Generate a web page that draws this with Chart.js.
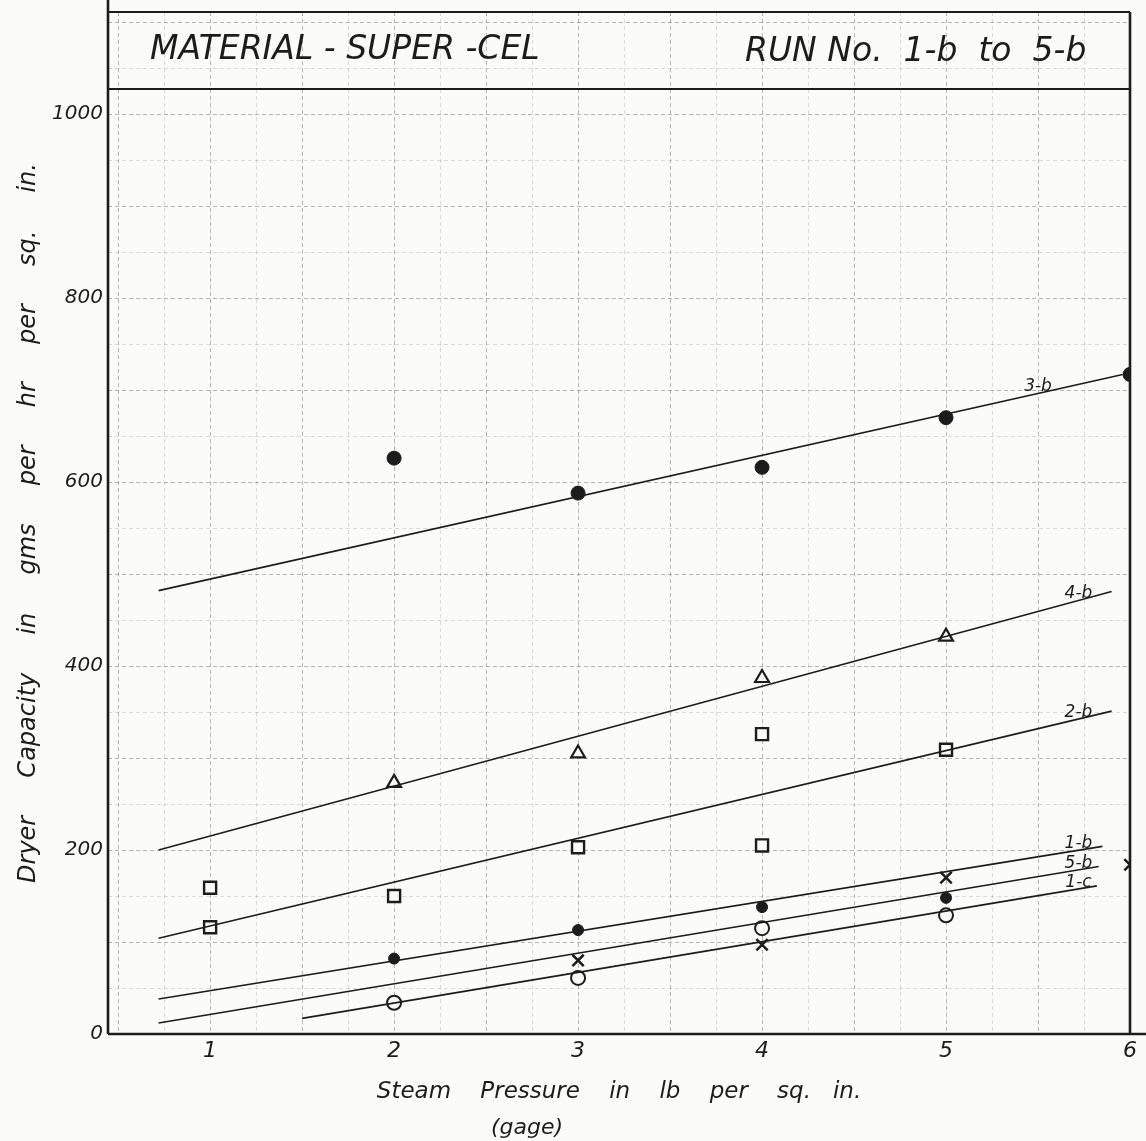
<!DOCTYPE html>
<html>
<head>
<meta charset="utf-8">
<title>Material Super-Cel - dryer capacity vs steam pressure</title>
<script src="https://cdn.jsdelivr.net/npm/chart.js@4.4.1/dist/chart.umd.min.js"></script>
<style>
  html, body { margin: 0; padding: 0; background: #fbfbf9; }
</style>
</head>
<body>
<canvas id="myChart" width="1146" height="1141"></canvas>
<script>
// values
// x = steam pressure (lb per sq in, gage), y = dryer capacity (gms per hr per sq in)
const runNames = ["3-b", "4-b", "2-b", "1-b", "5-b", "1-c"]

const run3bPressure = [2, 3, 4, 5, 6]
const run3bCapacity = [626, 588, 616, 670, 717]
const run4bPressure = [2, 3, 4, 5]
const run4bCapacity = [273, 305, 387, 432]
const run2bPressure = [1, 1, 2, 3, 4, 4, 5]
const run2bCapacity = [159, 116, 150, 203, 326, 205, 309]
const run1bPressure = [2, 3, 4, 5]
const run1bCapacity = [82, 113, 138, 148]
const run5bPressure = [3, 4, 5, 6]
const run5bCapacity = [80, 97, 170, 184]
const run1cPressure = [2, 3, 4, 5]
const run1cCapacity = [34, 61, 115, 129]

// the hand drawn straight lines: where each one starts and ends (same order as runNames)
const fitStartPressure = [0.72, 0.72, 0.72, 0.72, 0.72, 1.5]
const fitStartCapacity = [482, 200, 104, 38, 12, 17]
const fitEndPressure = [5.96, 5.9, 5.9, 5.85, 5.83, 5.82]
const fitEndCapacity = [717, 481, 351, 204, 182, 161]

const xTickLabels = ["1", "2", "3", "4", "5", "6"]
const yTickLabels = ["0", "200", "400", "600", "800", "1000"]

const ink = "#1c1c1c"
const paper = "#fbfbf9"
const hand = '"DejaVu Sans", sans-serif'

const pressures = [run3bPressure, run4bPressure, run2bPressure, run1bPressure, run5bPressure, run1cPressure]
const capacities = [run3bCapacity, run4bCapacity, run2bCapacity, run1bCapacity, run5bCapacity, run1cCapacity]

const marks = [
  { style: "circle", r: 7, filled: true, w: 1 },
  { style: "triangle", r: 8, filled: false, w: 2.2 },
  { style: "rect", r: 8.5, filled: false, w: 2.4 },
  { style: "circle", r: 5.5, filled: true, w: 1 },
  { style: "crossRot", r: 8, filled: false, w: 2.5 },
  { style: "circle", r: 7, filled: false, w: 2 },
]

const datasets = []
runNames.forEach((name, i) => {
  datasets.push({
    label: name + " fit",
    runLabel: name,
    data: [
      { x: fitStartPressure[i], y: fitStartCapacity[i] },
      { x: fitEndPressure[i], y: fitEndCapacity[i] },
    ],
    showLine: true,
    borderColor: ink,
    borderWidth: 1.6,
    pointRadius: 0,
  })
  datasets.push({
    label: name,
    data: pressures[i].map((p, j) => ({ x: p, y: capacities[i][j] })),
    showLine: false,
    pointStyle: marks[i].style,
    pointRadius: marks[i].r,
    pointBorderWidth: marks[i].w,
    pointBorderColor: ink,
    pointBackgroundColor: marks[i].filled ? ink : paper,
  })
})

// run names written on top of the end of each line
const lineLabels = {
  id: "lineLabels",
  afterDatasetsDraw(chart) {
    const { ctx } = chart
    const x = chart.scales.x, y = chart.scales.y
    ctx.save()
    ctx.font = "italic 17px " + hand
    ctx.fillStyle = ink
    ctx.textAlign = "center"
    ctx.textBaseline = "bottom"
    chart.data.datasets.forEach(ds => {
      if (!ds.runLabel) return
      const a = ds.data[0], b = ds.data[1]
      const at = ds.runLabel === "3-b" ? 5.5 : 5.72
      const v = a.y + (at - a.x) / (b.x - a.x) * (b.y - a.y)
      ctx.fillText(ds.runLabel, x.getPixelForValue(at), y.getPixelForValue(v) + 2)
    })
    ctx.restore()
  }
}

// paper, frame, title box
const sheet = {
  id: "sheet",
  beforeDraw(chart) {
    const { ctx } = chart
    ctx.save()
    ctx.fillStyle = paper
    ctx.fillRect(0, 0, chart.width, chart.height)
    ctx.restore()
  },
  afterDraw(chart) {
    const { ctx } = chart
    const { left, top, right, bottom } = chart.chartArea
    ctx.save()
    ctx.strokeStyle = ink
    ctx.lineWidth = 2.6
    ctx.beginPath()
    ctx.moveTo(left, 0); ctx.lineTo(left, bottom)
    ctx.moveTo(left, bottom); ctx.lineTo(chart.width, bottom)
    ctx.moveTo(right, top); ctx.lineTo(right, bottom)
    ctx.stroke()
    ctx.lineWidth = 2
    ctx.beginPath()
    ctx.moveTo(left, top); ctx.lineTo(right, top)
    ctx.moveTo(left, top + 77); ctx.lineTo(right, top + 77)
    ctx.stroke()

    ctx.fillStyle = ink
    ctx.textBaseline = "middle"
    ctx.font = "italic 33px " + hand
    ctx.textAlign = "left"
    ctx.fillText("MATERIAL - SUPER -CEL", 150, top + 38)
    ctx.fillText("RUN No.  1-b  to  5-b", 745, top + 40)

    ctx.font = "italic 22px " + hand
    ctx.textAlign = "center"
    ctx.fillText("(gage)", 527, 1128)
    ctx.restore()
  }
}

function gridColor(step) {
  return c => (c.tick && Math.abs(c.tick.value / step - Math.round(c.tick.value / step)) < 1e-6)
    ? "rgba(70,70,70,0.38)" : "rgba(70,70,70,0.18)"
}

new Chart(document.getElementById("myChart"), {
  type: "scatter",
  data: { datasets },
  options: {
    responsive: false,
    animation: false,
    layout: { padding: { top: 12, right: 16, left: 0, bottom: 0 } },
    plugins: { legend: { display: false }, tooltip: { enabled: false } },
    scales: {
      x: {
        type: "linear",
        min: 0.445,
        max: 6,
        afterFit(s) { s.height = 107 },
        border: { display: false, dash: [4, 3] },
        grid: { color: gridColor(0.5), drawTicks: false },
        ticks: {
          stepSize: 0.25,
          includeBounds: false,
          autoSkip: false,
          maxRotation: 0,
          padding: 4,
          color: ink,
          font: { family: hand, size: 22, style: "italic" },
          callback: v => xTickLabels.includes(String(v)) ? String(v) : "",
        },
        title: {
          display: true,
          text: "Steam    Pressure    in    lb    per    sq.   in.",
          color: ink,
          font: { family: hand, size: 23, style: "italic" },
          padding: { top: 4, bottom: 35 },
        },
      },
      y: {
        type: "linear",
        min: 0,
        max: 1111,
        afterFit(s) {
          s.width = 108
          s.paddingTop = 0
          s.paddingBottom = 0
        },
        border: { display: false, dash: [4, 3] },
        grid: { color: gridColor(100), drawTicks: false },
        ticks: {
          stepSize: 50,
          includeBounds: false,
          autoSkip: false,
          padding: 5,
          color: ink,
          font: { family: hand, size: 20, style: "italic" },
          callback: v => yTickLabels.includes(String(v)) ? String(v) : "",
        },
        title: {
          display: true,
          text: "Dryer     Capacity     in     gms     per     hr     per     sq.     in.",
          color: ink,
          font: { family: hand, size: 24, style: "italic" },
          padding: { top: 14, bottom: 0 },
        },
      },
    },
  },
  plugins: [sheet, lineLabels],
})
</script>
</body>
</html>
